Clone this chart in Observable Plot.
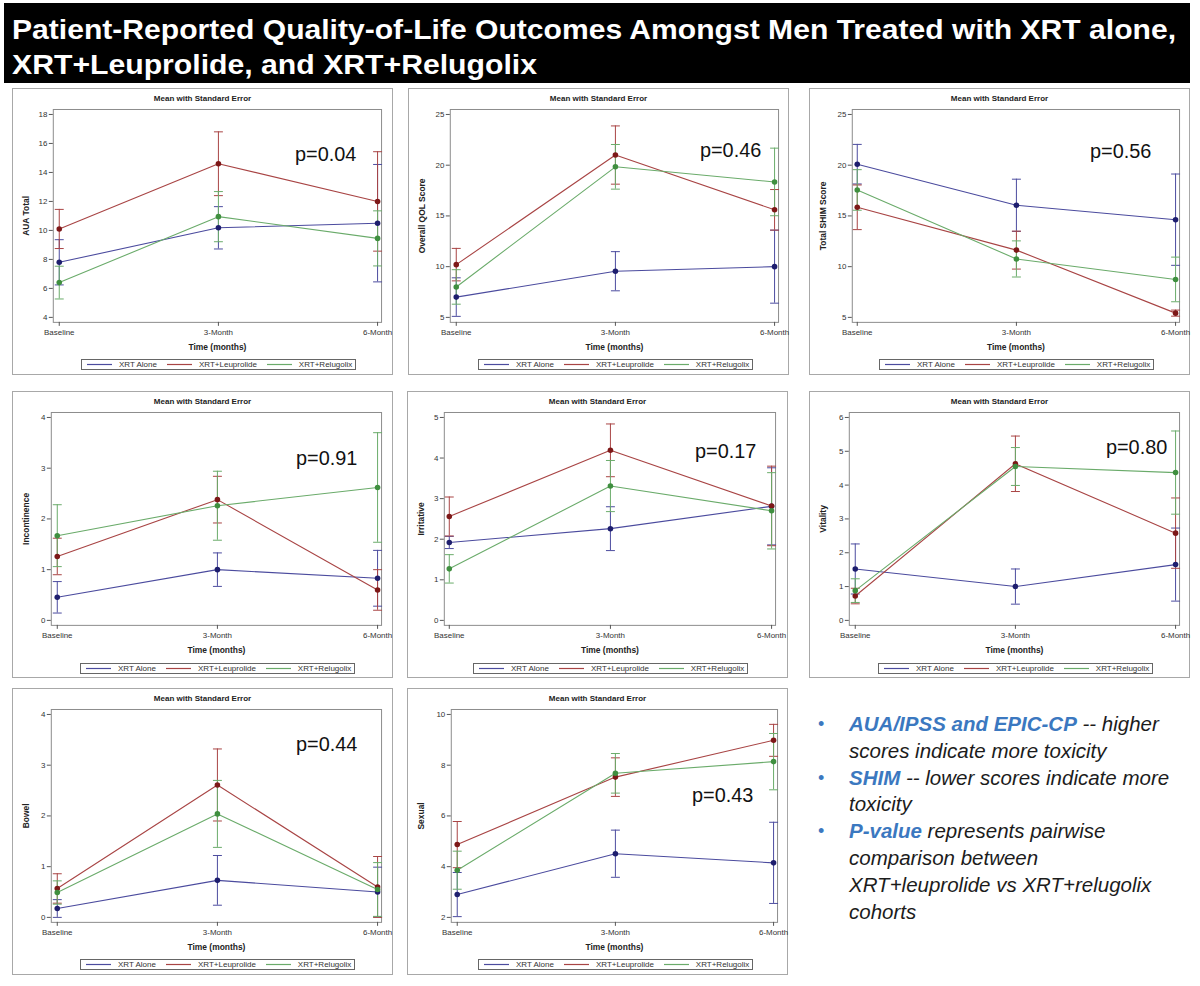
<!DOCTYPE html>
<html><head><meta charset="utf-8">
<script src="https://cdn.jsdelivr.net/npm/d3@7"></script>
<script src="https://cdn.jsdelivr.net/npm/@observablehq/plot@0.6"></script>
<style>
body{margin:0;background:#fff;font-family:"Liberation Sans",Arial,sans-serif;}
#page{position:relative;width:1200px;height:986px;overflow:hidden;background:#fff;}
#title{position:absolute;left:4px;top:3px;}
.panel{position:absolute;width:381px;height:287px;box-sizing:border-box;border:1px solid #a8a8a8;background:#fff;}
.ptitle{position:absolute;top:5px;left:0;width:100%;text-align:center;font-weight:bold;font-size:8px;color:#222;}
.plotwrap{position:absolute;top:18px;left:0;}
.plotwrap svg{overflow:visible;}
.legend{position:absolute;top:270px;height:11px;box-sizing:border-box;border:1px solid #666;display:flex;align-items:center;padding:0 3px 0 5px;font-size:8px;line-height:9px;color:#333;white-space:nowrap;}
.legend svg{display:block;margin-right:7px;}
.legend .it{display:flex;align-items:center;margin-right:10px;}
.legend .it:last-child{margin-right:0;}
.plotwrap svg g[aria-label="y-axis label"] text,.plotwrap svg g[aria-label="x-axis label"] text{font-weight:bold;font-size:8.5px;fill:#222;}
#notes{position:absolute;left:849px;top:711px;font-size:20.5px;line-height:26.8px;font-style:italic;color:#1c1c1c;white-space:nowrap;}
#notes .b{position:relative;}
#notes .dot{position:absolute;left:-31px;font-style:normal;color:#3b78c0;font-size:18px;}
#notes b{color:#3b78c0;}
</style></head>
<body><div id="page">
<svg id="title" width="1186" height="80">
  <rect x="0" y="0" width="1186" height="80" fill="#000"></rect>
  <text x="8" y="36" fill="#fff" font-weight="bold" font-size="28" font-family="Liberation Sans, Arial, sans-serif" textLength="1164" lengthAdjust="spacingAndGlyphs">Patient-Reported Quality-of-Life Outcomes Amongst Men Treated with XRT alone,</text>
  <text x="8" y="71" fill="#fff" font-weight="bold" font-size="28" font-family="Liberation Sans, Arial, sans-serif" textLength="525" lengthAdjust="spacingAndGlyphs">XRT+Leuprolide, and XRT+Relugolix</text>
</svg>
<div id="notes">
  <div class="b"><span class="dot">•</span><b>AUA/IPSS and EPIC-CP</b> -- higher<br>scores indicate more toxicity</div>
  <div class="b"><span class="dot">•</span><b>SHIM</b> -- lower scores indicate more<br>toxicity</div>
  <div class="b"><span class="dot">•</span><b>P-value</b> represents pairwise<br>comparison between<br>XRT+leuprolide vs XRT+relugolix<br>cohorts</div>
</div>
</div>
<script>
const timepoints = ["Baseline", "3-Month", "6-Month"];
const groups = ["XRT Alone", "XRT+Leuprolide", "XRT+Relugolix"];
const lineColors = ["#4b4b9e", "#a84444", "#6aab6a"];
const markerColors = ["#1e1e6e", "#7d1818", "#3f8f3f"];

// AUA Total
const auaMean = [[7.8, 10.18, 10.5], [10.1, 14.6, 12.0], [6.4, 10.95, 9.45]];
const auaSE   = [[1.56, 1.46, 4.05], [1.35, 2.2, 3.43], [1.13, 1.73, 1.9]];
const auaTicks = [4, 6, 8, 10, 12, 14, 16, 18];
// Overall QOL Score
const qolMean = [[7.0, 9.55, 10.0], [10.2, 21.0, 15.6], [8.0, 19.84, 18.35]];
const qolSE   = [[1.9, 1.93, 3.6], [1.6, 2.87, 2.0], [1.7, 2.2, 3.33]];
const qolTicks = [5, 10, 15, 20, 25];
// Total SHIM Score
const shimMean = [[20.1, 16.05, 14.63], [15.85, 11.63, 5.42], [17.56, 10.76, 8.74]];
const shimSE   = [[1.95, 2.57, 4.5], [2.2, 1.87, 0.3], [2.0, 1.78, 2.2]];
const shimTicks = [5, 10, 15, 20, 25];
// Incontinence
const incMean = [[0.455, 1.0, 0.83], [1.26, 2.38, 0.6], [1.67, 2.26, 2.62]];
const incSE   = [[0.31, 0.33, 0.55], [0.36, 0.46, 0.4], [0.61, 0.68, 1.08]];
const incTicks = [0, 1, 2, 3, 4];
// Irritative
const irrMean = [[1.92, 2.26, 2.81], [2.56, 4.19, 2.82], [1.27, 3.31, 2.70]];
const irrSE   = [[0.15, 0.54, 0.95], [0.48, 0.65, 0.98], [0.35, 0.63, 0.94]];
const irrTicks = [0, 1, 2, 3, 4, 5];
// Vitality
const vitMean = [[1.52, 1.0, 1.65], [0.72, 4.63, 2.58], [0.88, 4.55, 4.37]];
const vitSE   = [[0.74, 0.52, 1.08], [0.23, 0.82, 1.04], [0.35, 0.56, 1.23]];
const vitTicks = [0, 1, 2, 3, 4, 5, 6];
// Bowel
const bowMean = [[0.175, 0.73, 0.5], [0.57, 2.61, 0.6], [0.49, 2.04, 0.55]];
const bowSE   = [[0.175, 0.49, 0.49], [0.29, 0.71, 0.6], [0.23, 0.66, 0.53]];
const bowTicks = [0, 1, 2, 3, 4];
// Sexual
const sexMean = [[2.9, 4.51, 4.15], [4.87, 7.53, 8.98], [3.86, 7.68, 8.14]];
const sexSE   = [[0.87, 0.93, 1.6], [0.91, 0.76, 0.63], [0.75, 0.78, 1.11]];
const sexTicks = [2, 4, 6, 8, 10];

const pValues = ["p=0.04", "p=0.46", "p=0.56", "p=0.91", "p=0.17", "p=0.80", "p=0.44", "p=0.43"];
const yLabels = ["AUA Total", "Overall QOL Score", "Total SHIM Score", "Incontinence", "Irritative", "Vitality", "Bowel", "Sexual"];

const panels = [
  {left: 12,  top: 88,  ml: 40, mr: 11, mean: auaMean,  se: auaSE,  ticks: auaTicks,  pdx: 243, pdy: 45},
  {left: 408, top: 88,  ml: 41, mr: 10, mean: qolMean,  se: qolSE,  ticks: qolTicks,  pdx: 251, pdy: 41},
  {left: 809, top: 88,  ml: 42, mr: 10, mean: shimMean, se: shimSE, ticks: shimTicks, pdx: 239, pdy: 42},
  {left: 12,  top: 391, ml: 38, mr: 11, mean: incMean,  se: incSE,  ticks: incTicks,  pdx: 246, pdy: 46},
  {left: 407, top: 391, ml: 36, mr: 12, mean: irrMean,  se: irrSE,  ticks: irrTicks,  pdx: 252, pdy: 39},
  {left: 809, top: 391, ml: 39, mr: 10, mean: vitMean,  se: vitSE,  ticks: vitTicks,  pdx: 258, pdy: 35},
  {left: 12,  top: 688, ml: 38, mr: 11, mean: bowMean,  se: bowSE,  ticks: bowTicks,  pdx: 246, pdy: 35},
  {left: 407, top: 688, ml: 43, mr: 10, mean: sexMean,  se: sexSE,  ticks: sexTicks,  pdx: 242, pdy: 87}
];

const capSymbol = {
  draw(context, size) {
    const w = Math.sqrt(size / Math.PI);
    context.moveTo(-w, 0);
    context.lineTo(w, 0);
  }
};

const page = document.getElementById("page");
const W = 381, H = 250;
const NS = "http://www.w3.org/2000/svg";

panels.forEach((p, i) => {
  const div = document.createElement("div");
  div.className = "panel";
  div.style.left = p.left + "px";
  div.style.top = p.top + "px";
  const t = document.createElement("div");
  t.className = "ptitle";
  t.textContent = "Mean with Standard Error";
  div.appendChild(t);

  const rows = [];
  groups.forEach((g, gi) => timepoints.forEach((tp, ti) => {
    const m = p.mean[gi][ti], s = p.se[gi][ti];
    rows.push({group: g, gi, time: tp, mean: m, lo: m - s, hi: m + s});
  }));

  const marks = [
    Plot.frame({stroke: "#8c8c8c"}),
    Plot.axisY({ticks: p.ticks, tickFormat: d => String(d), tickSize: 4, tickPadding: 2, label: yLabels[i], labelAnchor: "center", labelArrow: "none", labelOffset: p.ml - 10, stroke: "#555", fill: "#333"}),
    Plot.axisX({tickSize: 4, tickPadding: 3, label: "Time (months)", labelAnchor: "center", labelArrow: "none", labelOffset: 28, stroke: "#555", fill: "#333"})
  ];
  groups.forEach((g, gi) => {
    const d = rows.filter(r => r.gi === gi);
    marks.push(
      Plot.ruleX(d, {x: "time", y1: "lo", y2: "hi", stroke: lineColors[gi], strokeWidth: 1}),
      Plot.dot(d, {x: "time", y: "hi", symbol: capSymbol, r: 4.5, stroke: lineColors[gi], fill: "none", strokeWidth: 1}),
      Plot.dot(d, {x: "time", y: "lo", symbol: capSymbol, r: 4.5, stroke: lineColors[gi], fill: "none", strokeWidth: 1})
    );
  });
  groups.forEach((g, gi) => {
    const d = rows.filter(r => r.gi === gi);
    marks.push(
      Plot.line(d, {x: "time", y: "mean", stroke: lineColors[gi], strokeWidth: 1.1}),
      Plot.dot(d, {x: "time", y: "mean", fill: markerColors[gi], r: 2.8})
    );
  });
  marks.push(Plot.text([pValues[i]], {frameAnchor: "top-left", dx: p.pdx, dy: p.pdy, text: d => d, fontSize: 20, textAnchor: "start", lineAnchor: "middle", fill: "#111"}));

  const chart = Plot.plot({
    width: W, height: H,
    marginTop: 2, marginBottom: 34, marginLeft: p.ml, marginRight: p.mr,
    style: {fontFamily: "Liberation Sans, Arial, sans-serif", fontSize: "8px", color: "#333", background: "transparent", overflow: "visible"},
    x: {type: "point", domain: timepoints, padding: 0, insetLeft: 5, insetRight: 4},
    y: {domain: [p.ticks[0], p.ticks[p.ticks.length - 1]], insetTop: 5, insetBottom: 5},
    marks
  });
  const wrap = document.createElement("div");
  wrap.className = "plotwrap";
  wrap.appendChild(chart);
  div.appendChild(wrap);

  const leg = document.createElement("div");
  leg.className = "legend";
  leg.style.top = (p.top % 2 === 0 ? 270 : 271) + "px";
  groups.forEach((g, gi) => {
    const it = document.createElement("span");
    it.className = "it";
    const sw = document.createElementNS(NS, "svg");
    sw.setAttribute("width", "25");
    sw.setAttribute("height", "3");
    const ln = document.createElementNS(NS, "line");
    ln.setAttribute("x1", "0"); ln.setAttribute("x2", "25");
    ln.setAttribute("y1", "1.5"); ln.setAttribute("y2", "1.5");
    ln.setAttribute("stroke", lineColors[gi]);
    ln.setAttribute("stroke-width", "1.2");
    sw.appendChild(ln);
    const tx = document.createElement("span");
    tx.textContent = g;
    it.appendChild(sw); it.appendChild(tx);
    leg.appendChild(it);
  });
  div.appendChild(leg);
  page.appendChild(div);
  const fl = p.ml, fr = W - p.mr;
  const lw = leg.offsetWidth;
  leg.style.left = Math.round((fl + fr) / 2 - lw / 2) + "px";
});
</script>
</body></html>
